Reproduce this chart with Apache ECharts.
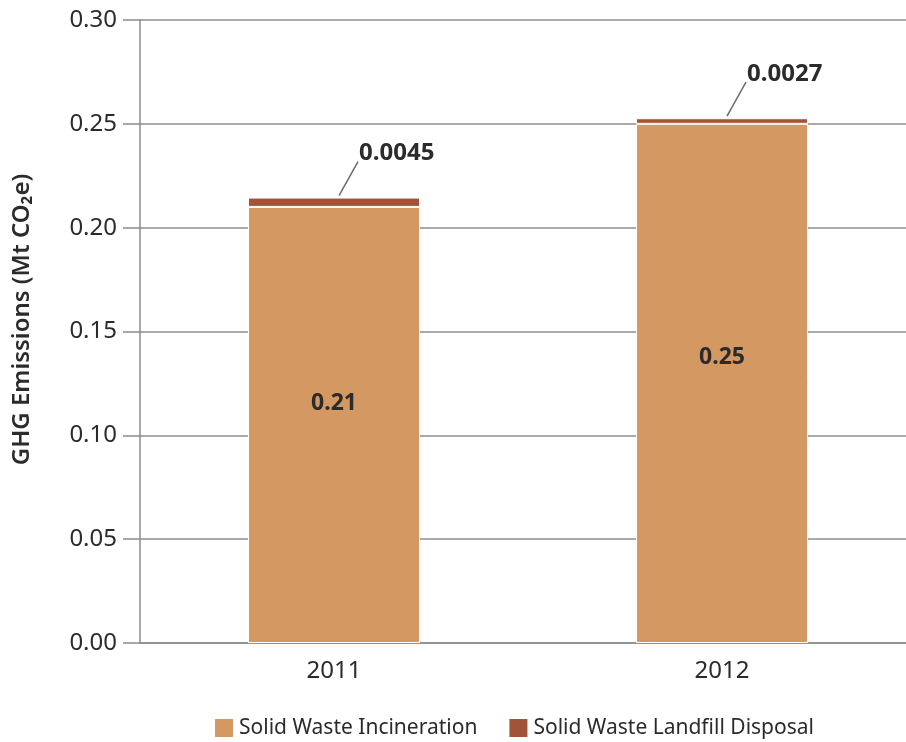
<!DOCTYPE html>
<html>
<head>
<meta charset="utf-8">
<script src="https://cdn.jsdelivr.net/npm/echarts@6/dist/echarts.min.js"></script>
<style>
  html, body { margin: 0; padding: 0; background: #fff; }
  #chart { width: 906px; height: 742px; }
</style>
</head>
<body>
<div id="chart"></div>
<script>
// Yearly emissions by waste source (Mt CO2e)
const years = ['2011', '2012'];
const incineration = [0.21, 0.25];
const landfill = [0.0045, 0.0027];
const seriesNames = ['Solid Waste Incineration', 'Solid Waste Landfill Disposal'];
const yTicks = { min: 0, max: 0.30, step: 0.05 };

const FONT = '"Noto Sans", "Open Sans", sans-serif';
const TEXT = '#2b2b2b';
const AXIS = '#8c8c8c';
const chart = echarts.init(document.getElementById('chart'));

// Callout for the thin landfill segment: a slanted leader line from the
// top of the stack up to the value text.
function renderCallout(params, api) {
  const top = api.coord([api.value(0), api.value(1)]);
  const x0 = top[0] + 5, y0 = top[1] - 2;
  const x1 = top[0] + 24, y1 = top[1] - 36;
  return {
    type: 'group',
    children: [
      {
        type: 'line',
        shape: { x1: x0, y1: y0, x2: x1, y2: y1 },
        style: { stroke: '#6b6b6b', lineWidth: 1.5 }
      },
      {
        type: 'text',
        x: x1 + 1,
        y: y1 - 8,
        style: {
          text: api.value(2).toFixed(4),
          fontFamily: FONT,
          fontSize: 24,
          fontWeight: 'bold',
          fill: TEXT,
          textAlign: 'left',
          textVerticalAlign: 'middle'
        }
      }
    ]
  };
}

chart.setOption({
  animation: false,
  textStyle: { fontFamily: FONT },
  // the plot area runs slightly past the right edge of the canvas
  grid: { left: 140, top: 20, bottom: 99, right: -10, outerBoundsMode: 'none' },
  legend: {
    top: 712,
    left: 208,
    itemWidth: 20,
    itemHeight: 20,
    itemGap: 30,
    icon: 'rect',
    textStyle: { fontSize: 21, color: TEXT, fontFamily: FONT },
    data: seriesNames
  },
  xAxis: {
    type: 'category',
    data: years,
    axisLine: { lineStyle: { color: AXIS, width: 1.5 } },
    axisTick: { show: false },
    axisLabel: { fontSize: 24, color: TEXT, margin: 16, fontFamily: FONT }
  },
  yAxis: {
    type: 'value',
    min: yTicks.min,
    max: yTicks.max,
    interval: yTicks.step,
    name: 'GHG Emissions (Mt CO₂e)',
    nameLocation: 'middle',
    nameGap: 106,
    nameTextStyle: {
      fontSize: 24, fontWeight: 600, color: TEXT, fontFamily: FONT,
      padding: [0, 0, 0, 24]
    },
    axisLine: { show: true, onZero: false, lineStyle: { color: AXIS, width: 1.5 } },
    axisTick: { show: true, length: 17, lineStyle: { color: AXIS, width: 1.5 } },
    splitLine: { lineStyle: { color: AXIS, width: 1.5 } },
    axisLabel: {
      fontSize: 24, color: TEXT, margin: 23, fontFamily: FONT,
      formatter: v => v.toFixed(2)
    }
  },
  series: [
    {
      name: seriesNames[0],
      type: 'bar',
      stack: 'total',
      barWidth: 172,
      data: incineration,
      itemStyle: { color: '#D49862', borderColor: '#fff', borderWidth: 1 },
      label: {
        show: true,
        position: ['50%', '45%'],
        align: 'center',
        verticalAlign: 'middle',
        fontSize: 23,
        fontWeight: 'bold',
        color: TEXT,
        fontFamily: FONT,
        formatter: p => p.value.toFixed(2)
      }
    },
    {
      name: seriesNames[1],
      type: 'bar',
      stack: 'total',
      barWidth: 172,
      data: landfill,
      itemStyle: { color: '#A0543A', borderColor: '#fff', borderWidth: 1 }
    },
    {
      type: 'custom',
      silent: true,
      renderItem: renderCallout,
      data: years.map((y, i) => [i, incineration[i] + landfill[i], landfill[i]]),
      z: 5
    }
  ]
});
</script>
</body>
</html>
